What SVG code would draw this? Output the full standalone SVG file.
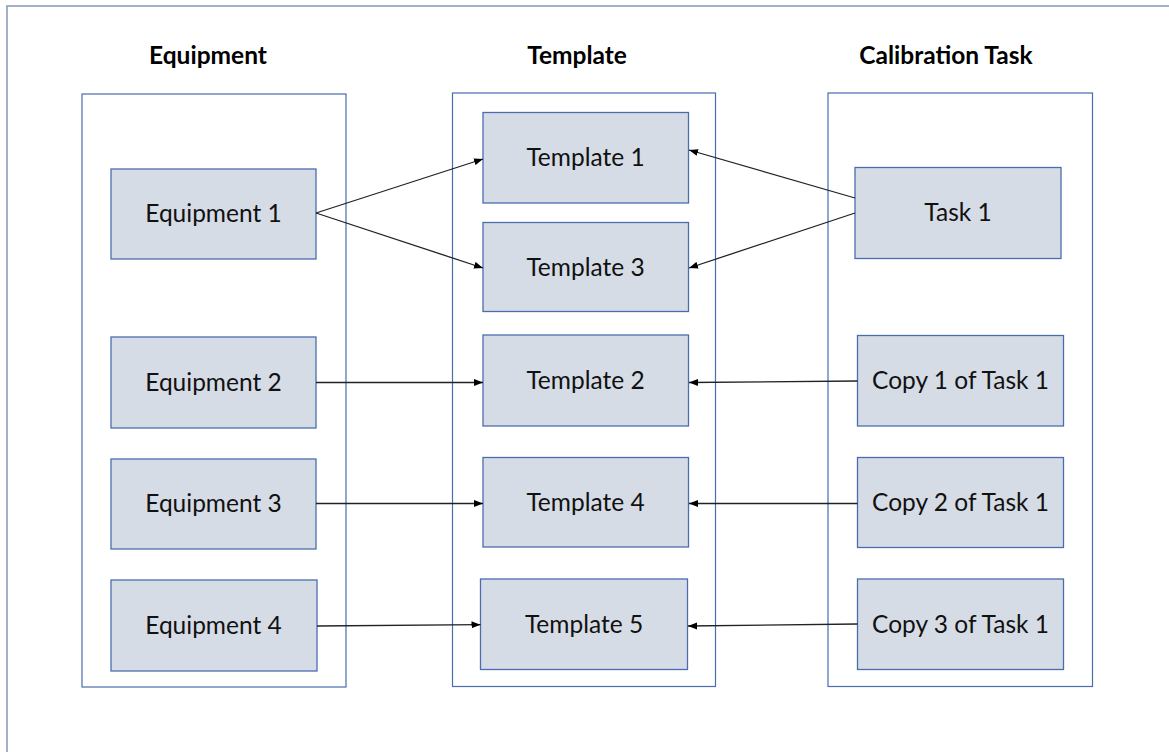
<svg xmlns="http://www.w3.org/2000/svg" width="1169" height="752" viewBox="0 0 1169 752">
<style>
.frame{fill:none;stroke:#8496bb;stroke-width:1.5}
.col{fill:#ffffff;stroke:#4a6db0;stroke-width:1.2}
.node{fill:#d6dce5;stroke:#4a6db0;stroke-width:1.3}
.hdr{font-family:Lato,"Liberation Sans",sans-serif;font-weight:bold;font-size:24.5px;fill:#000;text-anchor:middle}
.lbl{font-family:Lato,"Liberation Sans",sans-serif;font-size:24.5px;fill:#111;text-anchor:middle}
.conn line{stroke:#222;stroke-width:1.3;marker-end:url(#ah)}
</style>
<defs>
<marker id="ah" markerUnits="userSpaceOnUse" markerWidth="10" markerHeight="8" refX="9" refY="4" orient="auto">
<path d="M0,0.5 L9,4 L0,7.5 z" fill="#000"/>
</marker>
</defs>
<rect width="1169" height="752" fill="#ffffff"/>
<path class="frame" d="M7,752 L7,6 L1169,6"/>
<g id="headers">
<text class="hdr" x="208" y="64">Equipment</text>
<text class="hdr" x="577" y="64">Template</text>
<text class="hdr" x="946" y="64">Calibration Task</text>
</g>
<g id="col-equipment"><rect class="col" x="82" y="94" width="264" height="593"/></g>
<g id="col-template"><rect class="col" x="452.5" y="93" width="263" height="593.5"/></g>
<g id="col-task"><rect class="col" x="828" y="93" width="264.5" height="593.5"/></g>
<g id="equipment1"><rect class="node" x="111" y="169" width="205" height="90"/><text class="lbl" x="213.5" y="222">Equipment 1</text></g>
<g id="equipment2"><rect class="node" x="111" y="337" width="205" height="91"/><text class="lbl" x="213.5" y="391">Equipment 2</text></g>
<g id="equipment3"><rect class="node" x="111" y="459" width="205" height="90"/><text class="lbl" x="213.5" y="512">Equipment 3</text></g>
<g id="equipment4"><rect class="node" x="111" y="580" width="206" height="91"/><text class="lbl" x="213.5" y="634">Equipment 4</text></g>
<g id="template1"><rect class="node" x="483" y="112.5" width="205.5" height="90.5"/><text class="lbl" x="585.5" y="166">Template 1</text></g>
<g id="template3"><rect class="node" x="483" y="222.5" width="205.5" height="89"/><text class="lbl" x="585.5" y="276">Template 3</text></g>
<g id="template2"><rect class="node" x="483" y="335" width="205.5" height="91"/><text class="lbl" x="585.5" y="389">Template 2</text></g>
<g id="template4"><rect class="node" x="483" y="457.5" width="205.5" height="89.5"/><text class="lbl" x="585.5" y="511">Template 4</text></g>
<g id="template5"><rect class="node" x="480.5" y="579" width="207" height="90.5"/><text class="lbl" x="584" y="633">Template 5</text></g>
<g id="task1"><rect class="node" x="855" y="167.5" width="206" height="91"/><text class="lbl" x="958" y="221">Task 1</text></g>
<g id="copy1"><rect class="node" x="857.5" y="335.5" width="206" height="90.5"/><text class="lbl" x="960.5" y="389">Copy 1 of Task 1</text></g>
<g id="copy2"><rect class="node" x="857.5" y="457.5" width="206" height="90"/><text class="lbl" x="960.5" y="511">Copy 2 of Task 1</text></g>
<g id="copy3"><rect class="node" x="857.5" y="579" width="206" height="90.5"/><text class="lbl" x="960.5" y="633">Copy 3 of Task 1</text></g>
<g id="connectors" class="conn">
<line x1="316" y1="213" x2="483" y2="159"/>
<line x1="316" y1="213" x2="483" y2="268"/>
<line x1="855" y1="198" x2="689" y2="150"/>
<line x1="855" y1="213" x2="689" y2="268"/>
<line x1="316" y1="382.5" x2="483" y2="382.5"/>
<line x1="857.5" y1="381" x2="689" y2="382.5"/>
<line x1="316" y1="503.5" x2="483" y2="503.5"/>
<line x1="857.5" y1="503.5" x2="689" y2="503.5"/>
<line x1="317" y1="626" x2="480.5" y2="624.7"/>
<line x1="857.5" y1="624" x2="688" y2="626"/>
</g>
</svg>
